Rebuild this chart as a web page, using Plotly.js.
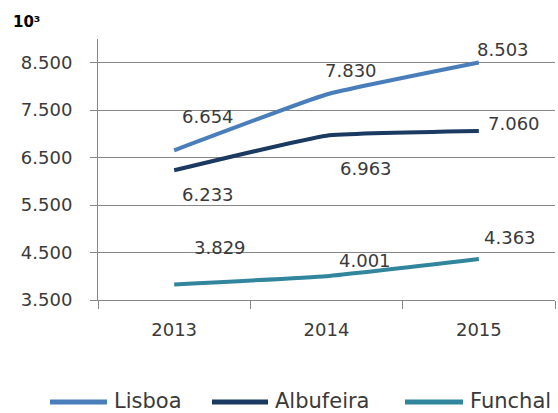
<!DOCTYPE html>
<html>
<head>
<meta charset="utf-8">
<script src="https://cdn.plot.ly/plotly-3.0.1.min.js"></script>
<style>
  html, body { margin: 0; padding: 0; background: #fff; }
  #chart { width: 558px; height: 413px; }
</style>
</head>
<body>
<div id="chart"></div>
<script>
// ---- data (thousands) ----
const years = ['2013', '2014', '2015'];
const seriesNames = ['Lisboa', 'Albufeira', 'Funchal'];
const lisboa = [6654, 7830, 8503];
const albufeira = [6233, 6963, 7060];
const funchal = [3829, 4001, 4363];
const yTickVals = [3500, 4500, 5500, 6500, 7500, 8500];
const unitLabel = '10³';

// ---- styling ----
const colors = ['#4A7EBB', '#1B3A61', '#31859C'];
const FONT = 'DejaVu Sans';
const TEXT = '#3a3a3a';
const GRID = '#868686';

// plot area in pixels
const L = 98, R = 555, T = 39, B = 300;
const W = 558, H = 413;
const px2x = px => (px - L) / (R - L);
const py2y = py => (B - py) / (B - T);

function fmt(v) {
  const s = String(Math.round(v));
  return s.length > 3 ? s.slice(0, -3) + '.' + s.slice(-3) : s;
}

const allSeries = [lisboa, albufeira, funchal];

const traces = allSeries.map((vals, i) => ({
  type: 'scatter',
  mode: 'lines',
  x: years,
  y: vals,
  name: seriesNames[i],
  line: { color: colors[i], width: 4, shape: 'spline', smoothing: 0.35 },
  showlegend: false,
  hoverinfo: 'skip'
}));

// label offsets (pixels) per series per point
const labelShift = [
  [[34, 34], [24, 24], [24, 13]],
  [[34, -24], [39, -33], [35, 8]],
  [[46, 37], [38, 16], [31, 22]]
];

const annotations = [];
allSeries.forEach((vals, i) => {
  vals.forEach((v, j) => {
    annotations.push({
      x: j, y: v, xref: 'x', yref: 'y',   // category index of years[j]
      text: fmt(v), showarrow: false,
      xshift: labelShift[i][j][0], yshift: labelShift[i][j][1],
      font: { family: FONT, size: 18, color: TEXT },
      xanchor: 'center', yanchor: 'middle'
    });
  });
});

// unit label
annotations.push({
  xref: 'paper', yref: 'paper', x: px2x(11), y: py2y(22),
  xanchor: 'left', yanchor: 'middle', showarrow: false,
  text: '<b>' + unitLabel + '</b>',
  font: { family: FONT, size: 15, color: '#000' }
});

// manual legend
const legendY = 402;
const legendItems = [
  { x0: 50, x1: 107, tx: 112 },
  { x0: 212, x1: 268, tx: 273 },
  { x0: 405, x1: 463, tx: 468 }
];
const shapes = [];
legendItems.forEach((it, i) => {
  shapes.push({
    type: 'line', xref: 'paper', yref: 'paper',
    x0: px2x(it.x0), x1: px2x(it.x1), y0: py2y(legendY), y1: py2y(legendY),
    line: { color: colors[i], width: 5 }
  });
  annotations.push({
    xref: 'paper', yref: 'paper', x: px2x(it.tx), y: py2y(legendY - 1),
    xanchor: 'left', yanchor: 'middle', showarrow: false,
    text: seriesNames[i],
    font: { family: FONT, size: 21, color: TEXT }
  });
});

const layout = {
  width: W, height: H,
  margin: { l: L, r: W - R, t: T, b: H - B, pad: 0 },
  paper_bgcolor: '#fff', plot_bgcolor: '#fff',
  separators: ',.',
  showlegend: false,
  font: { family: FONT, size: 18, color: TEXT },
  xaxis: {
    type: 'category',
    categoryorder: 'array', categoryarray: years,
    range: [-0.5, years.length - 0.5],
    autorange: false,
    showline: true, linecolor: GRID, linewidth: 1,
    showgrid: false, zeroline: false,
    ticks: 'outside', ticklen: 8, tickcolor: GRID, tickwidth: 1,
    tickson: 'boundaries',
    tickangle: 0,
    ticklabelstandoff: 13,
    tickfont: { family: FONT, size: 18, color: TEXT },
    fixedrange: true
  },
  yaxis: {
    range: [3500, 9000],
    autorange: false,
    tickmode: 'array', tickvals: yTickVals,
    tickformat: ',d',
    showline: true, linecolor: GRID, linewidth: 1,
    showgrid: true, gridcolor: GRID, gridwidth: 1,
    zeroline: false,
    ticks: 'outside', ticklen: 7, tickcolor: GRID, tickwidth: 1,
    ticklabelstandoff: 14,
    tickfont: { family: FONT, size: 18, color: TEXT },
    fixedrange: true
  },
  shapes: shapes,
  annotations: annotations
};

Plotly.newPlot('chart', traces, layout, { staticPlot: true, displayModeBar: false });
</script>
</body>
</html>
